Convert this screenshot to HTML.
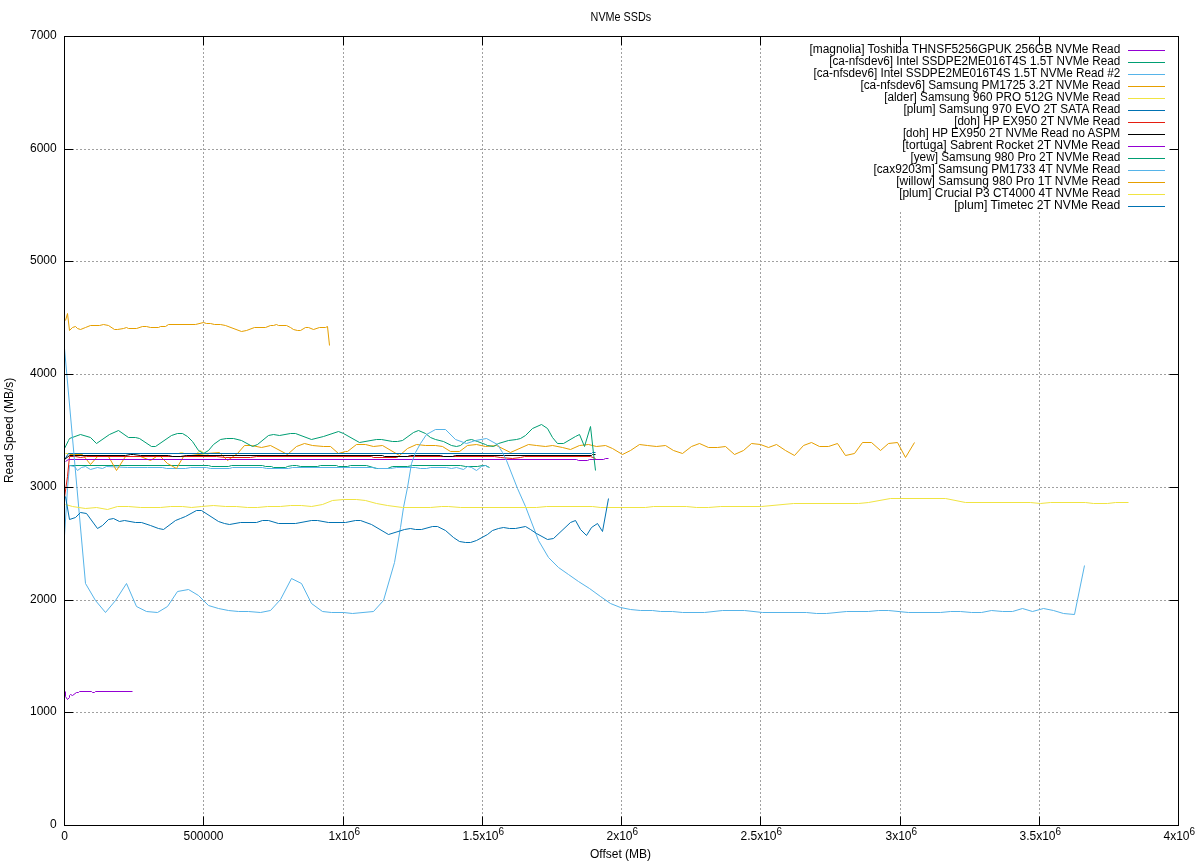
<!DOCTYPE html>
<html lang="en"><head><meta charset="utf-8"><title>NVMe SSDs</title>
<style>html,body{margin:0;padding:0;background:#fff}svg{display:block}text{font-family:"Liberation Sans",sans-serif;font-size:12px;fill:#000}</style></head><body>
<svg width="1200" height="864" viewBox="0 0 1200 864">
<rect width="1200" height="864" fill="#fff"/>
<g stroke="#a0a0a0" stroke-width="1" stroke-dasharray="2 2" fill="none">
<path d="M76 712.50H1178.5"/>
<path d="M76 600.50H1178.5"/>
<path d="M76 487.50H1178.5"/>
<path d="M76 374.50H1178.5"/>
<path d="M76 261.50H1178.5"/>
<path d="M76 149.50H1178.5"/>
<path d="M203.50 48V825.5"/>
<path d="M343.50 48V825.5"/>
<path d="M482.50 48V825.5"/>
<path d="M621.50 48V825.5"/>
<path d="M760.50 48V825.5"/>
<path d="M900.50 48V825.5"/>
<path d="M1039.50 48V825.5"/>
</g>
<g fill="none" stroke-width="1" stroke-linejoin="round">
<polyline stroke="#9400D3" points="65.5,691.5 65.5,696.5 67.5,699.5 69.5,697.5 69.5,695.5 70.5,694.5 72.5,695.5 76.5,692.5 78.5,692.5 79.5,691.5 91.5,691.5 92.5,692.5 94.5,692.5 95.5,691.5 132.5,691.5"/>
<polyline stroke="#009E73" points="69.5,465.5 208.5,465.5 211.5,466.5 228.5,466.5 231.5,465.5 262.5,465.5 265.5,466.5 271.5,466.5 273.5,467.5 285.5,467.5 287.5,466.5 292.5,465.5 296.5,465.5 300.5,466.5 317.5,466.5 320.5,465.5 336.5,465.5 338.5,466.5 347.5,466.5 350.5,465.5 366.5,465.5 376.5,468.5 387.5,468.5 392.5,466.5 407.5,466.5 412.5,465.5 460.5,465.5 465.5,466.5 477.5,466.5 482.5,465.5 485.5,465.5 489.5,467.5"/>
<polyline stroke="#56B4E9" points="64.5,535.5 67.5,488.5 69.5,465.5 74.5,466.5 77.5,470.5 81.5,467.5 85.5,466.5 90.5,469.5 97.5,467.5 102.5,468.5 106.5,466.5 127.5,467.5 147.5,467.5 162.5,467.5 166.5,468.5 176.5,468.5 185.5,468.5 190.5,467.5 206.5,467.5 210.5,468.5 229.5,468.5 232.5,467.5 262.5,467.5 266.5,468.5 288.5,468.5 292.5,467.5 350.5,467.5 372.5,467.5 377.5,468.5 390.5,468.5 396.5,467.5 415.5,467.5 420.5,468.5 426.5,468.5 430.5,467.5 446.5,467.5 451.5,468.5 456.5,467.5 463.5,469.5 467.5,466.5 471.5,467.5 476.5,470.5 481.5,466.5 485.5,465.5 488.5,467.5"/>
<polyline stroke="#E69F00" points="69.5,454.5 82.5,454.5 90.5,464.5 97.5,456.5 108.5,456.5 116.5,470.5 125.5,456.5 140.5,456.5 150.5,460.5 156.5,456.5 160.5,456.5 167.5,463.5 176.5,468.5 183.5,456.5 206.5,453.5 219.5,452.5 221.5,454.5 227.5,460.5 237.5,453.5 244.5,445.5 251.5,445.5 261.5,447.5 270.5,445.5 287.5,454.5 296.5,446.5 304.5,443.5 312.5,445.5 323.5,446.5 330.5,446.5 338.5,453.5 345.5,451.5 347.5,451.5 356.5,444.5 365.5,444.5 373.5,446.5 382.5,445.5 399.5,455.5 407.5,448.5 416.5,444.5 425.5,445.5 435.5,445.5 442.5,446.5 450.5,451.5 459.5,451.5 467.5,445.5 476.5,444.5 485.5,446.5 496.5,445.5 510.5,452.5 528.5,444.5 536.5,445.5 545.5,446.5 552.5,445.5 562.5,447.5 570.5,449.5 579.5,445.5 588.5,444.5 596.5,446.5 605.5,445.5 612.5,448.5 622.5,454.5 630.5,450.5 639.5,444.5 647.5,445.5 656.5,446.5 665.5,445.5 673.5,450.5 682.5,453.5 691.5,446.5 699.5,443.5 708.5,447.5 717.5,447.5 725.5,446.5 734.5,454.5 743.5,450.5 751.5,443.5 760.5,444.5 768.5,447.5 776.5,444.5 785.5,450.5 794.5,455.5 803.5,445.5 811.5,442.5 819.5,446.5 828.5,446.5 837.5,443.5 845.5,455.5 854.5,453.5 862.5,442.5 871.5,442.5 880.5,450.5 888.5,443.5 897.5,442.5 905.5,457.5 914.5,442.5"/>
<polyline stroke="#F0E442" points="65.5,453.5 178.5,453.5 181.5,452.5 184.5,453.5 196.5,453.5 200.5,450.5 204.5,453.5 208.5,454.5"/>
<polyline stroke="#0072B2" points="64.5,459.5 68.5,453.5 591.5,453.5 592.5,452.5 595.5,452.5"/>
<polyline stroke="#E51E10" points="64.5,497.5 67.5,476.5 69.5,456.5 75.5,456.5 80.5,457.5 86.5,456.5 216.5,456.5 225.5,457.5 250.5,457.5 256.5,456.5 371.5,456.5 373.5,457.5 396.5,457.5 398.5,456.5 494.5,456.5 500.5,457.5 512.5,458.5 520.5,457.5 524.5,456.5 590.5,456.5 595.5,458.5"/>
<polyline stroke="#000000" points="64.5,459.5 69.5,455.5 125.5,455.5 130.5,454.5 133.5,454.5 140.5,455.5 168.5,455.5 172.5,456.5 180.5,456.5 186.5,455.5 382.5,455.5 384.5,456.5 407.5,456.5 410.5,455.5 440.5,455.5 443.5,456.5 452.5,456.5 455.5,455.5 591.5,455.5 592.5,454.5 595.5,454.5"/>
<polyline stroke="#9400D3" points="65.5,461.5 68.5,459.5 576.5,459.5 578.5,460.5 587.5,460.5 589.5,459.5 603.5,459.5 605.5,458.5 608.5,458.5"/>
<polyline stroke="#009E73" points="64.5,448.5 68.5,440.5 69.5,438.5 80.5,434.5 90.5,437.5 96.5,443.5 109.5,434.5 118.5,430.5 128.5,437.5 135.5,437.5 139.5,438.5 151.5,446.5 155.5,446.5 171.5,435.5 177.5,433.5 182.5,433.5 187.5,436.5 192.5,441.5 198.5,450.5 203.5,453.5 208.5,450.5 213.5,444.5 220.5,439.5 226.5,438.5 233.5,438.5 241.5,440.5 252.5,446.5 257.5,444.5 268.5,435.5 273.5,434.5 279.5,435.5 290.5,433.5 295.5,433.5 311.5,439.5 323.5,436.5 338.5,431.5 343.5,433.5 359.5,442.5 376.5,439.5 381.5,439.5 392.5,441.5 397.5,441.5 402.5,440.5 413.5,432.5 418.5,430.5 425.5,433.5 430.5,437.5 435.5,439.5 443.5,441.5 451.5,445.5 456.5,446.5 460.5,445.5 466.5,440.5 471.5,439.5 477.5,441.5 485.5,444.5 487.5,445.5 493.5,446.5 498.5,443.5 508.5,440.5 516.5,439.5 520.5,438.5 525.5,435.5 532.5,428.5 541.5,424.5 547.5,428.5 552.5,437.5 557.5,443.5 563.5,443.5 575.5,436.5 579.5,434.5 584.5,446.5 590.5,426.5 593.5,453.5 595.5,470.5"/>
<polyline stroke="#56B4E9" points="64.5,348.5 85.5,583.5 95.5,600.5 105.5,612.5 115.5,600.5 126.5,583.5 136.5,606.5 146.5,611.5 157.5,612.5 167.5,606.5 177.5,591.5 188.5,589.5 198.5,595.5 208.5,605.5 218.5,608.5 228.5,610.5 238.5,611.5 248.5,611.5 260.5,612.5 270.5,610.5 280.5,599.5 291.5,578.5 301.5,583.5 311.5,603.5 322.5,611.5 331.5,612.5 343.5,612.5 352.5,613.5 373.5,611.5 383.5,600.5 394.5,562.5 400.5,527.5 403.5,507.5 407.5,487.5 411.5,463.5 415.5,452.5 420.5,443.5 426.5,434.5 435.5,429.5 445.5,429.5 455.5,439.5 466.5,443.5 475.5,440.5 486.5,438.5 497.5,444.5 502.5,452.5 506.5,460.5 517.5,488.5 525.5,506.5 538.5,540.5 548.5,557.5 558.5,567.5 568.5,574.5 578.5,581.5 589.5,588.5 600.5,596.5 610.5,603.5 620.5,607.5 630.5,609.5 640.5,610.5 652.5,610.5 660.5,611.5 672.5,611.5 682.5,612.5 704.5,612.5 722.5,610.5 744.5,610.5 762.5,612.5 806.5,612.5 816.5,613.5 826.5,613.5 846.5,611.5 868.5,611.5 878.5,610.5 888.5,610.5 908.5,612.5 940.5,612.5 950.5,611.5 960.5,611.5 971.5,612.5 981.5,612.5 991.5,610.5 1002.5,611.5 1012.5,611.5 1022.5,608.5 1032.5,611.5 1043.5,608.5 1053.5,610.5 1063.5,613.5 1074.5,614.5 1084.5,565.5"/>
<polyline stroke="#E69F00" points="65.5,320.5 67.5,313.5 69.5,330.5 72.5,327.5 75.5,326.5 77.5,328.5 80.5,329.5 85.5,327.5 90.5,325.5 99.5,325.5 103.5,324.5 108.5,325.5 114.5,329.5 117.5,329.5 123.5,328.5 126.5,327.5 128.5,328.5 136.5,328.5 142.5,326.5 146.5,326.5 150.5,327.5 158.5,327.5 160.5,326.5 165.5,326.5 168.5,324.5 195.5,324.5 203.5,322.5 206.5,323.5 210.5,323.5 214.5,324.5 220.5,324.5 225.5,325.5 241.5,331.5 246.5,330.5 254.5,327.5 265.5,327.5 270.5,325.5 273.5,325.5 276.5,324.5 278.5,325.5 286.5,325.5 290.5,327.5 293.5,329.5 297.5,330.5 300.5,330.5 305.5,327.5 308.5,327.5 313.5,329.5 319.5,327.5 325.5,327.5 327.5,326.5 329.5,345.5"/>
<polyline stroke="#F0E442" points="65.5,504.5 72.5,506.5 85.5,508.5 96.5,507.5 107.5,509.5 117.5,506.5 128.5,506.5 140.5,507.5 160.5,507.5 170.5,506.5 182.5,506.5 191.5,507.5 201.5,506.5 213.5,505.5 225.5,506.5 236.5,506.5 247.5,507.5 257.5,507.5 267.5,506.5 280.5,506.5 290.5,505.5 301.5,505.5 311.5,506.5 322.5,504.5 332.5,500.5 343.5,499.5 356.5,499.5 365.5,500.5 376.5,503.5 387.5,505.5 402.5,507.5 430.5,507.5 441.5,506.5 448.5,506.5 460.5,507.5 536.5,507.5 546.5,506.5 592.5,506.5 600.5,507.5 645.5,507.5 653.5,506.5 686.5,506.5 696.5,507.5 708.5,507.5 720.5,506.5 761.5,506.5 793.5,503.5 858.5,503.5 868.5,502.5 890.5,498.5 945.5,498.5 965.5,502.5 1030.5,502.5 1040.5,503.5 1050.5,502.5 1085.5,502.5 1093.5,503.5 1107.5,503.5 1115.5,502.5 1128.5,502.5"/>
<polyline stroke="#0072B2" points="65.5,496.5 69.5,519.5 75.5,517.5 80.5,512.5 86.5,513.5 97.5,528.5 102.5,525.5 108.5,519.5 113.5,518.5 119.5,521.5 124.5,520.5 135.5,522.5 141.5,522.5 150.5,525.5 158.5,528.5 163.5,529.5 175.5,520.5 180.5,518.5 185.5,516.5 196.5,510.5 201.5,510.5 218.5,521.5 224.5,523.5 229.5,524.5 240.5,522.5 256.5,522.5 262.5,520.5 268.5,520.5 278.5,523.5 295.5,523.5 311.5,520.5 317.5,520.5 328.5,522.5 345.5,522.5 355.5,520.5 360.5,520.5 371.5,524.5 388.5,534.5 404.5,529.5 410.5,528.5 415.5,529.5 421.5,529.5 432.5,526.5 437.5,526.5 445.5,530.5 453.5,537.5 459.5,541.5 465.5,542.5 470.5,542.5 476.5,540.5 487.5,534.5 492.5,530.5 498.5,528.5 503.5,527.5 509.5,528.5 515.5,528.5 525.5,526.5 530.5,529.5 536.5,533.5 547.5,539.5 553.5,538.5 570.5,522.5 575.5,520.5 580.5,529.5 586.5,535.5 591.5,527.5 597.5,523.5 602.5,531.5 608.5,498.5"/>
</g>
<rect x="762" y="45" width="416.5" height="167" fill="#fff"/>
<g text-anchor="end">
<text x="1120.3" y="52.7" textLength="310.8" lengthAdjust="spacingAndGlyphs">[magnolia] Toshiba THNSF5256GPUK 256GB NVMe Read</text>
<path d="M1128 50.5H1165" stroke="#9400D3" stroke-width="1" fill="none"/>
<text x="1120.3" y="64.7" textLength="291.1" lengthAdjust="spacingAndGlyphs">[ca-nfsdev6] Intel SSDPE2ME016T4S 1.5T NVMe Read</text>
<path d="M1128 62.5H1165" stroke="#009E73" stroke-width="1" fill="none"/>
<text x="1120.3" y="76.7" textLength="306.9" lengthAdjust="spacingAndGlyphs">[ca-nfsdev6] Intel SSDPE2ME016T4S 1.5T NVMe Read #2</text>
<path d="M1128 74.5H1165" stroke="#56B4E9" stroke-width="1" fill="none"/>
<text x="1120.3" y="88.7" textLength="259.9" lengthAdjust="spacingAndGlyphs">[ca-nfsdev6] Samsung PM1725 3.2T NVMe Read</text>
<path d="M1128 86.5H1165" stroke="#E69F00" stroke-width="1" fill="none"/>
<text x="1120.3" y="100.7" textLength="236.1" lengthAdjust="spacingAndGlyphs">[alder] Samsung 960 PRO 512G NVMe Read</text>
<path d="M1128 98.5H1165" stroke="#F0E442" stroke-width="1" fill="none"/>
<text x="1120.3" y="112.7" textLength="216.9" lengthAdjust="spacingAndGlyphs">[plum] Samsung 970 EVO 2T SATA Read</text>
<path d="M1128 110.5H1165" stroke="#0072B2" stroke-width="1" fill="none"/>
<text x="1120.3" y="124.7" textLength="166.1" lengthAdjust="spacingAndGlyphs">[doh] HP EX950 2T NVMe Read</text>
<path d="M1128 122.5H1165" stroke="#E51E10" stroke-width="1" fill="none"/>
<text x="1120.3" y="136.7" textLength="217.4" lengthAdjust="spacingAndGlyphs">[doh] HP EX950 2T NVMe Read no ASPM</text>
<path d="M1128 134.5H1165" stroke="#000000" stroke-width="1" fill="none"/>
<text x="1120.3" y="148.7" textLength="218.1" lengthAdjust="spacingAndGlyphs">[tortuga] Sabrent Rocket 2T NVMe Read</text>
<path d="M1128 146.5H1165" stroke="#9400D3" stroke-width="1" fill="none"/>
<text x="1120.3" y="160.7" textLength="209.9" lengthAdjust="spacingAndGlyphs">[yew] Samsung 980 Pro 2T NVMe Read</text>
<path d="M1128 158.5H1165" stroke="#009E73" stroke-width="1" fill="none"/>
<text x="1120.3" y="172.7" textLength="246.9" lengthAdjust="spacingAndGlyphs">[cax9203m] Samsung PM1733 4T NVMe Read</text>
<path d="M1128 170.5H1165" stroke="#56B4E9" stroke-width="1" fill="none"/>
<text x="1120.3" y="184.7" textLength="224.1" lengthAdjust="spacingAndGlyphs">[willow] Samsung 980 Pro 1T NVMe Read</text>
<path d="M1128 182.5H1165" stroke="#E69F00" stroke-width="1" fill="none"/>
<text x="1120.3" y="196.7" textLength="221.1" lengthAdjust="spacingAndGlyphs">[plum] Crucial P3 CT4000 4T NVMe Read</text>
<path d="M1128 194.5H1165" stroke="#F0E442" stroke-width="1" fill="none"/>
<text x="1120.3" y="208.7" textLength="166.1" lengthAdjust="spacingAndGlyphs">[plum] Timetec 2T NVMe Read</text>
<path d="M1128 206.5H1165" stroke="#0072B2" stroke-width="1" fill="none"/>
</g>
<g stroke="#000" stroke-width="1" fill="none">
<rect x="64.5" y="36.5" width="1114.0" height="789.0"/>
<path d="M64.5 825.50h9M1178.5 825.50h-9"/>
<path d="M64.5 712.50h9M1178.5 712.50h-9"/>
<path d="M64.5 600.50h9M1178.5 600.50h-9"/>
<path d="M64.5 487.50h9M1178.5 487.50h-9"/>
<path d="M64.5 374.50h9M1178.5 374.50h-9"/>
<path d="M64.5 261.50h9M1178.5 261.50h-9"/>
<path d="M64.5 149.50h9M1178.5 149.50h-9"/>
<path d="M64.5 36.50h9M1178.5 36.50h-9"/>
<path d="M64.50 825.5v-9M64.50 36.5v9"/>
<path d="M203.50 825.5v-9M203.50 36.5v9"/>
<path d="M343.50 825.5v-9M343.50 36.5v9"/>
<path d="M482.50 825.5v-9M482.50 36.5v9"/>
<path d="M621.50 825.5v-9M621.50 36.5v9"/>
<path d="M760.50 825.5v-9M760.50 36.5v9"/>
<path d="M900.50 825.5v-9M900.50 36.5v9"/>
<path d="M1039.50 825.5v-9M1039.50 36.5v9"/>
<path d="M1178.50 825.5v-9M1178.50 36.5v9"/>
</g>
<g text-anchor="end">
<text x="56.7" y="827.8">0</text>
<text x="56.7" y="714.8">1000</text>
<text x="56.7" y="602.8">2000</text>
<text x="56.7" y="489.8">3000</text>
<text x="56.7" y="376.8">4000</text>
<text x="56.7" y="263.8">5000</text>
<text x="56.7" y="151.8">6000</text>
<text x="56.7" y="38.8">7000</text>
</g>
<g text-anchor="middle">
<text x="64.5" y="839.7">0</text>
<text x="203.5" y="839.7">500000</text>
<text x="344.3" y="839.7">1x10<tspan dy="-4.9" font-size="10px">6</tspan></text>
<text x="483.3" y="839.7">1.5x10<tspan dy="-4.9" font-size="10px">6</tspan></text>
<text x="622.3" y="839.7">2x10<tspan dy="-4.9" font-size="10px">6</tspan></text>
<text x="761.3" y="839.7">2.5x10<tspan dy="-4.9" font-size="10px">6</tspan></text>
<text x="901.3" y="839.7">3x10<tspan dy="-4.9" font-size="10px">6</tspan></text>
<text x="1040.3" y="839.7">3.5x10<tspan dy="-4.9" font-size="10px">6</tspan></text>
<text x="1179.3" y="839.7">4x10<tspan dy="-4.9" font-size="10px">6</tspan></text>
<text x="620.9" y="20.8" textLength="60.6" lengthAdjust="spacingAndGlyphs">NVMe SSDs</text>
<text x="620.5" y="857.5">Offset (MB)</text>
<text transform="translate(13.2 430.4) rotate(-90)">Read Speed (MB/s)</text>
</g>
</svg></body></html>
